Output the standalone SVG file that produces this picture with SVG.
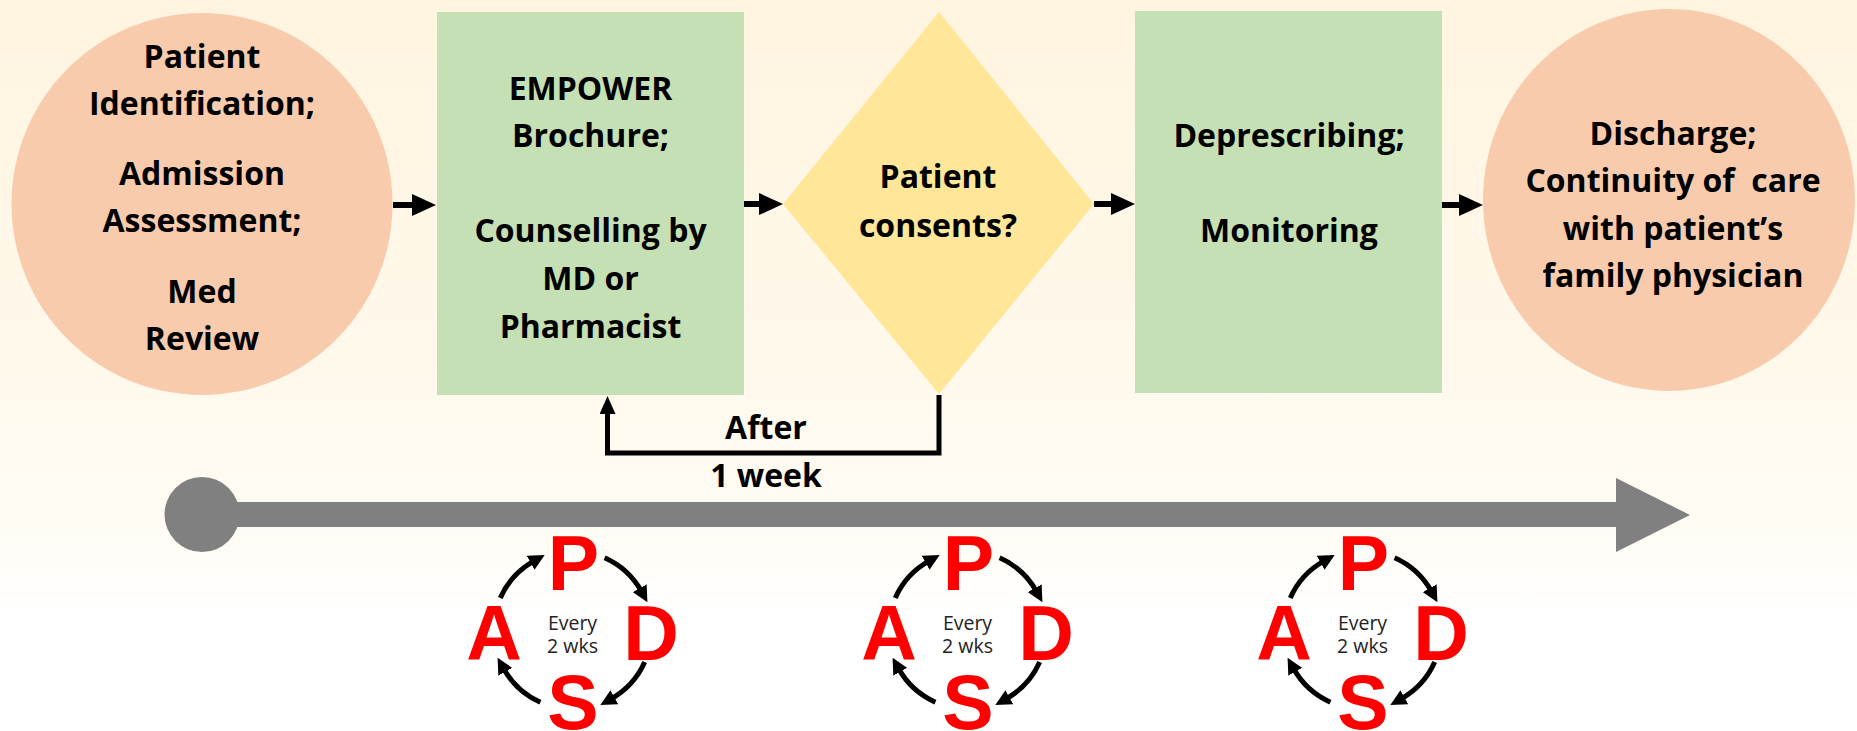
<svg xmlns="http://www.w3.org/2000/svg" width="1857" height="731" viewBox="0 0 1857 731">
<style>
.t{font-family:"Open Sans","Noto Sans","Liberation Sans",sans-serif;font-weight:700;font-size:32px;fill:#000;text-anchor:middle}
.peach{fill:#F8CBAD}
.green{fill:#C5E0B4}
.yellow{fill:#FFE699}
.conn{stroke:#000;stroke-width:6;fill:none}
.loop{stroke:#000;stroke-width:5;fill:none}
.L{font-family:"Liberation Sans",Arial,sans-serif;font-weight:700;font-size:77px;fill:#FF0000;text-anchor:middle}
.ev{font-family:"Open Sans","Noto Sans",sans-serif;font-size:19.5px;fill:#222;text-anchor:middle}
</style>
<defs>
<linearGradient id="bg" x1="0" y1="0" x2="0" y2="1">
<stop offset="0" stop-color="#FFF4DF"/>
<stop offset="0.5" stop-color="#FFF9EC"/>
<stop offset="0.72" stop-color="#FFFCF4"/>
<stop offset="0.84" stop-color="#FFFFFF"/>
<stop offset="1" stop-color="#FFFFFF"/>
</linearGradient>
<marker id="ah" markerUnits="userSpaceOnUse" markerWidth="24" markerHeight="22" refX="4" refY="11" orient="auto">
<path d="M0,0 L24,11 L0,22 Z" fill="#000"/>
</marker>
<marker id="ah2" markerUnits="userSpaceOnUse" markerWidth="18" markerHeight="16" refX="4" refY="8" orient="auto">
<path d="M0,0 L18,8 L0,16 Z" fill="#000"/>
</marker>
<marker id="ah3" markerUnits="userSpaceOnUse" markerWidth="16" markerHeight="16" refX="4" refY="8" orient="auto">
<path d="M0,0 L16,8 L0,16 Z" fill="#000"/>
</marker>
<g id="cyc-arrows" fill="none" stroke="#000" stroke-width="5">
<path d="M-72.2,-32.1 A79,79 0 0 1 -38.3,-69.1" marker-end="url(#ah3)"/>
<path d="M32.1,-72.2 A79,79 0 0 1 69.1,-38.3" marker-end="url(#ah3)"/>
<path d="M72.2,32.1 A79,79 0 0 1 38.3,69.1" marker-end="url(#ah3)"/>
<path d="M-32.1,72.2 A79,79 0 0 1 -69.1,38.3" marker-end="url(#ah3)"/>
</g>
</defs>
<rect x="0" y="0" width="1857" height="731" fill="url(#bg)"/>

<g id="timeline" fill="#808080">
<circle cx="202" cy="514.5" r="37.5"/>
<rect x="202" y="502" width="1415" height="25"/>
<polygon points="1616,478 1690,515 1616,552"/>
</g>

<g id="connectors">
<line class="conn" x1="393" y1="205" x2="416" y2="205" marker-end="url(#ah)"/>
<line class="conn" x1="744" y1="204" x2="763" y2="204" marker-end="url(#ah)"/>
<line class="conn" x1="1094" y1="204" x2="1115" y2="204" marker-end="url(#ah)"/>
<line class="conn" x1="1442" y1="205" x2="1463" y2="205" marker-end="url(#ah)"/>
<path class="loop" d="M939,395 L939,453 L607.5,453 L607.5,410" stroke-linejoin="miter" marker-end="url(#ah2)"/>
<text class="t" x="766" y="439">After</text>
<text class="t" x="766" y="487">1 week</text>
</g>

<g id="node-identification">
<ellipse class="peach" cx="202" cy="204" rx="190.5" ry="191"/>
<text class="t" x="202" y="68">Patient</text>
<text class="t" x="202" y="115">Identification;</text>
<text class="t" x="202" y="185">Admission</text>
<text class="t" x="202" y="232">Assessment;</text>
<text class="t" x="202" y="303">Med</text>
<text class="t" x="202" y="350">Review</text>
</g>

<g id="node-empower">
<rect class="green" x="437" y="12" width="307" height="383"/>
<text class="t" x="590.5" y="100">EMPOWER</text>
<text class="t" x="590.5" y="147">Brochure;</text>
<text class="t" x="590.5" y="242">Counselling by</text>
<text class="t" x="590.5" y="290">MD or</text>
<text class="t" x="590.5" y="338">Pharmacist</text>
</g>

<g id="node-consent">
<polygon class="yellow" points="939,12 1094,204 939,394 783,204"/>
<text class="t" x="938" y="188">Patient</text>
<text class="t" x="938" y="237">consents?</text>
</g>

<g id="node-deprescribing">
<rect class="green" x="1135" y="11" width="307" height="382"/>
<text class="t" x="1289" y="147">Deprescribing;</text>
<text class="t" x="1289" y="242">Monitoring</text>
</g>

<g id="node-discharge">
<ellipse class="peach" cx="1669" cy="200" rx="186" ry="191"/>
<text class="t" x="1673" y="145">Discharge;</text>
<text class="t" x="1673" y="192" xml:space="preserve">Continuity of  care</text>
<text class="t" x="1673" y="240">with patient’s</text>
<text class="t" x="1673" y="287">family physician</text>
</g>

<g id="pdsa-1" transform="translate(572.5,630)">
<use href="#cyc-arrows"/>
<text class="L" x="1" y="-40">P</text>
<text class="L" x="78.5" y="30">D</text>
<text class="L" x="0.5" y="99">S</text>
<text class="L" x="-78.5" y="30">A</text>
<text class="ev" x="0" y="0">Every</text>
<text class="ev" x="0" y="23">2 wks</text>
</g>

<g id="pdsa-2" transform="translate(967.5,630)">
<use href="#cyc-arrows"/>
<text class="L" x="1" y="-40">P</text>
<text class="L" x="78.5" y="30">D</text>
<text class="L" x="0.5" y="99">S</text>
<text class="L" x="-78.5" y="30">A</text>
<text class="ev" x="0" y="0">Every</text>
<text class="ev" x="0" y="23">2 wks</text>
</g>

<g id="pdsa-3" transform="translate(1362.5,630)">
<use href="#cyc-arrows"/>
<text class="L" x="1" y="-40">P</text>
<text class="L" x="78.5" y="30">D</text>
<text class="L" x="0.5" y="99">S</text>
<text class="L" x="-78.5" y="30">A</text>
<text class="ev" x="0" y="0">Every</text>
<text class="ev" x="0" y="23">2 wks</text>
</g>
</svg>
